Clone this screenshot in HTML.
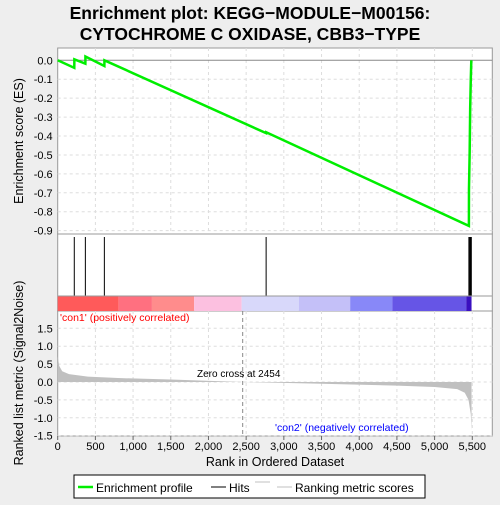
<!DOCTYPE html>
<html><head><meta charset="utf-8"><style>
body{margin:0;background:#eeeeee;font-family:"Liberation Sans",sans-serif}
svg text{font-family:"Liberation Sans",sans-serif}
</style></head><body>
<svg id="c" width="500" height="500" xmlns="http://www.w3.org/2000/svg">
<rect width="500" height="500" fill="#eeeeee"/>
<text x="250" y="19" text-anchor="middle" font-size="17.5" font-weight="bold" fill="#000">Enrichment plot: KEGG−MODULE−M00156:</text>
<text x="250" y="40" text-anchor="middle" font-size="17.5" font-weight="bold" fill="#000">CYTOCHROME C OXIDASE, CBB3−TYPE</text>
<g id="g"></g>
</svg>
<script>
const N = 5490;
const hitRanks = [220, 367, 619, 2765, 5455, 5465, 5472, 5480, 5487];
const esX = [0, 220, 221, 367, 368, 619, 620, 2765, 2766, 5455, 5456, 5465, 5472, 5480, 5487];
const esY = [0, -0.04, 0.005, -0.018, 0.02, -0.03, 0.0, -0.385, -0.38, -0.875, -0.68, -0.49, -0.255, -0.1, 0.0];
const esTicks = [0.0, -0.1, -0.2, -0.3, -0.4, -0.5, -0.6, -0.7, -0.8, -0.9];
const xTicks = [0, 500, 1000, 1500, 2000, 2500, 3000, 3500, 4000, 4500, 5000, 5500];
const metricTicks = [1.5, 1.0, 0.5, 0.0, -0.5, -1.0, -1.5];
const metricRanks = [0, 20, 60, 150, 400, 800, 1500, 2454, 3500, 4500, 5000, 5300, 5400, 5450, 5480, 5490];
const metricVals = [0.72, 0.45, 0.3, 0.22, 0.15, 0.11, 0.07, 0.0, -0.05, -0.1, -0.14, -0.2, -0.3, -0.5, -0.9, -1.35];
const bandEdges = [0, 810, 1250, 1810, 2440, 3200, 3880, 4440, 5420, 5490];
const bandColors = ["#ff5a5a","#ff7080","#ff8c8c","#fcc0e0","#d8d8fa","#c4c0f8","#8888f8","#6655e6","#3a10c0"];

const L=57.7, R=492.3;
const x = r => L + r*0.07538;
const yE = v => 60.3 - v*189.3;
const yM = v => 382 - v*35.8;
const g = document.getElementById('g');
const NS='http://www.w3.org/2000/svg';
function mk(t,a,p){const e=document.createElementNS(NS,t);for(const k in a)e.setAttribute(k,a[k]);(p||g).appendChild(e);return e;}

let p1=mk('rect',{x:L,y:48,width:R-L,height:186,fill:'#fff',stroke:'#999'});


let p2=mk('rect',{x:L,y:234,width:R-L,height:77,fill:'#fff',stroke:'#999'});


let p3=mk('rect',{x:L,y:311,width:R-L,height:125,fill:'#fff',stroke:'#999'});



xTicks.forEach(t=>{
  if(t===0)return;
  mk('line',{x1:x(t),x2:x(t),y1:48,y2:234,stroke:'#ddd','stroke-dasharray':'3,3'});
  mk('line',{x1:x(t),x2:x(t),y1:311,y2:436,stroke:'#ddd','stroke-dasharray':'3,3'});
});
esTicks.forEach(t=>{
  mk('line',{x1:L,x2:R,y1:yE(t),y2:yE(t),stroke:t===0?'#888':'#ddd','stroke-dasharray':t===0?'':'3,3'});
  let tx=mk('text',{x:L-5,y:yE(t)+4,'text-anchor':'end','font-size':11});
  tx.textContent=t.toFixed(1);
  
  
});
metricTicks.forEach(t=>{
  mk('line',{x1:L,x2:R,y1:yM(t),y2:yM(t),stroke:'#ddd','stroke-dasharray':'3,3'});
  let tx=mk('text',{x:L-5,y:yM(t)+4,'text-anchor':'end','font-size':11});
  tx.textContent=t.toFixed(1);
  
  
});
xTicks.forEach(t=>{
  mk('line',{x1:x(t),x2:x(t),y1:436,y2:440,stroke:'#666'});
  let tx=mk('text',{x:x(t),y:450,'text-anchor':'middle','font-size':11});
  tx.textContent=t.toLocaleString('en-US');
  
  
});

let pts=esX.map((r,i)=>x(r)+','+yE(esY[i])).join(' ');
let es=mk('polyline',{points:pts,fill:'none',stroke:'#00ee00','stroke-width':2.5});



hitRanks.forEach(r=>{
  let h=mk('line',{x1:x(r),x2:x(r),y1:237,y2:296,stroke:'#000','stroke-width':1});
  
  
});

for(let i=0;i<bandColors.length;i++){
  let b=mk('rect',{x:x(bandEdges[i]),y:296,width:x(bandEdges[i+1])-x(bandEdges[i]),height:15,fill:bandColors[i]});
  
  
}
mk('line',{x1:L,x2:R,y1:296,y2:296,stroke:'#999'});

let ap='M'+x(0)+','+yM(0)+' '+metricRanks.map((r,i)=>'L'+x(r)+','+yM(metricVals[i])).join(' ')+' L'+x(N)+','+yM(0)+'Z';
let area=mk('path',{d:ap,fill:'#c0c0c0',stroke:'none'});


mk('line',{x1:x(2454),x2:x(2454),y1:311,y2:436,stroke:'#888','stroke-dasharray':'4,3'});

function txt(s,a,name){let t=mk('text',a);t.textContent=s;return t;}
txt("'con1' (positively correlated)",{x:60,y:321,'font-size':10.5,fill:'#ff0000'},'con1-label');
txt("'con2' (negatively correlated)",{x:275,y:431,'font-size':10.5,fill:'#0000ff'},'con2-label');
txt("Zero cross at 2454",{x:197,y:377,'font-size':10,fill:'#000'},'zero-cross-label');
txt("Rank in Ordered Dataset",{x:275,y:466,'text-anchor':'middle','font-size':12.5},'x-axis-title');
txt("Enrichment score (ES)",{x:0,y:0,'text-anchor':'middle','font-size':12.5,transform:'translate(23,141) rotate(-90)'},'es-axis-title');
txt("Ranked list metric (Signal2Noise)",{x:0,y:0,'text-anchor':'middle','font-size':12.5,transform:'translate(23,373) rotate(-90)'},'metric-axis-title');

let lg=mk('rect',{x:74,y:475,width:351,height:23,fill:'#fff',stroke:'#000'});


mk('line',{x1:78,x2:93,y1:487,y2:487,stroke:'#00ee00','stroke-width':2.5});
txt("Enrichment profile",{x:96,y:492,'font-size':12},'legend-entry-enrichment');
mk('line',{x1:211,x2:226,y1:487,y2:487,stroke:'#000'});
txt("Hits",{x:229,y:492,'font-size':12},'legend-entry-hits');
mk('line',{x1:255,x2:270,y1:482,y2:482,stroke:'#c0c0c0'});
mk('line',{x1:277,x2:292,y1:487,y2:487,stroke:'#c0c0c0'});
txt("Ranking metric scores",{x:295,y:492,'font-size':12},'legend-entry-metric');
</script>
</body></html>
